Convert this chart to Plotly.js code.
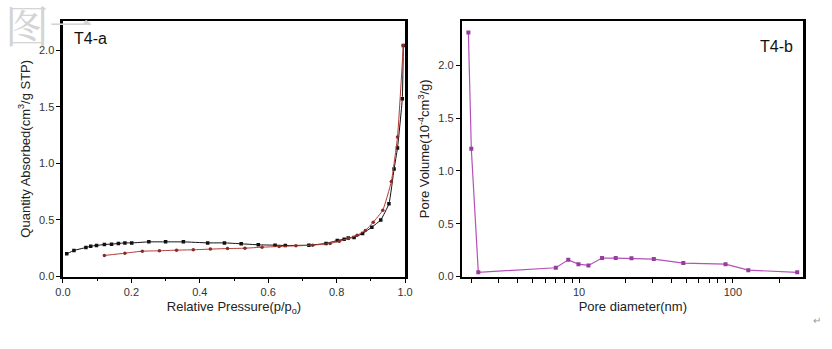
<!DOCTYPE html>
<html>
<head>
<meta charset="utf-8">
<script src="https://cdn.plot.ly/plotly-3.0.1.min.js"></script>
<style>
    body { margin: 0; background: #ffffff; }
    #chart { width: 832px; height: 349px; }
</style>
</head>
<body>
<div id="chart"></div>
<script>
// T4-a : isotherm, two branches
const adsP = [0.011, 0.032, 0.067, 0.081, 0.098, 0.121, 0.142, 0.162, 0.181, 0.201, 0.251, 0.300, 0.352, 0.423, 0.472, 0.521, 0.571, 0.620, 0.650, 0.719, 0.769, 0.802, 0.822, 0.834, 0.851, 0.876, 0.903, 0.929, 0.953, 0.968, 0.978, 0.992, 0.995];
const adsQ = [0.20, 0.23, 0.256, 0.268, 0.274, 0.283, 0.286, 0.292, 0.297, 0.297, 0.306, 0.306, 0.306, 0.297, 0.297, 0.289, 0.280, 0.277, 0.274, 0.277, 0.292, 0.318, 0.330, 0.340, 0.345, 0.380, 0.436, 0.500, 0.643, 0.950, 1.135, 1.57, 2.04];

const desP = [0.121, 0.181, 0.232, 0.282, 0.332, 0.381, 0.431, 0.481, 0.532, 0.582, 0.632, 0.681, 0.730, 0.781, 0.808, 0.834, 0.860, 0.884, 0.907, 0.935, 0.960, 0.978, 0.995];
const desQ = [0.186, 0.206, 0.224, 0.227, 0.233, 0.236, 0.242, 0.247, 0.250, 0.259, 0.265, 0.271, 0.277, 0.292, 0.312, 0.336, 0.365, 0.406, 0.480, 0.586, 0.840, 1.233, 2.04];

// T4-b : pore size distribution
const poreD = [1.905, 1.99, 2.21, 7.05, 8.5, 9.9, 11.5, 14.1, 17.3, 21.9, 30.6, 47.6, 89.6, 126, 262];
const poreV = [2.31, 1.21, 0.04, 0.083, 0.158, 0.117, 0.105, 0.175, 0.175, 0.172, 0.165, 0.127, 0.117, 0.06, 0.04];

const logTicks = [2, 3, 4, 5, 6, 7, 8, 9, 10, 20, 30, 40, 50, 60, 70, 80, 90, 100, 200];
const logText = logTicks.map(v => (v === 10 || v === 100) ? String(v) : '');

const FONT = 'Arial, "Liberation Sans", sans-serif';

function frameAxis(extra) {
    const base = {
        showline: true,
        linecolor: '#000',
        linewidth: 2.5,
        mirror: true,
        showgrid: false,
        zeroline: false,
        ticks: 'outside',
        ticklen: 4,
        tickwidth: 1,
        tickcolor: '#000',
        tickfont: { family: FONT, size: 11, color: '#333' }
    };
    return Object.assign(base, extra);
}

const data = [
    {
        x: adsP, y: adsQ, xaxis: 'x', yaxis: 'y',
        type: 'scatter', mode: 'lines+markers',
        line: { color: '#111', width: 1, shape: 'spline', smoothing: 0.4 },
        marker: { symbol: 'square', size: 3.5, color: '#111' }
    },
    {
        x: desP, y: desQ, xaxis: 'x', yaxis: 'y',
        type: 'scatter', mode: 'lines+markers',
        line: { color: '#b03a34', width: 1, shape: 'spline', smoothing: 0.4 },
        marker: { symbol: 'circle', size: 3.5, color: '#8a2a2a' }
    },
    {
        x: poreD, y: poreV, xaxis: 'x2', yaxis: 'y2',
        type: 'scatter', mode: 'lines+markers',
        line: { color: '#b550b8', width: 1.2 },
        marker: { symbol: 'square', size: 4, color: '#963c9a' }
    }
];

const layout = {
    width: 832,
    height: 349,
    margin: { l: 0, r: 0, t: 0, b: 0 },
    paper_bgcolor: '#ffffff',
    plot_bgcolor: '#ffffff',
    showlegend: false,
    font: { family: FONT, color: '#222' },
    xaxis: frameAxis({
        domain: [0.0757, 0.4868],
        range: [0, 1],
        tickvals: [0, 0.2, 0.4, 0.6, 0.8, 1.0],
        tickformat: '.1f',
        minor: { tickvals: [0.1, 0.3, 0.5, 0.7, 0.9], ticks: 'outside', ticklen: 2, tickcolor: '#000' },
        title: { text: 'Relative Pressure(p/p<sub>o</sub>)', font: { family: FONT, size: 13, color: '#222' }, standoff: 5 },
        anchor: 'y'
    }),
    yaxis: frameAxis({
        domain: [0.2077, 0.9398],
        range: [0, 2.257],
        tickvals: [0, 0.5, 1.0, 1.5, 2.0],
        tickformat: '.1f',
        title: { text: 'Quantity Absorbed(cm<sup>3</sup>/g STP)', font: { family: FONT, size: 13, color: '#222' }, standoff: 6 },
        anchor: 'x'
    }),
    xaxis2: frameAxis({
        domain: [0.5557, 0.9655],
        type: 'log',
        range: [Math.log10(1.74), Math.log10(287)],
        tickvals: logTicks,
        ticktext: logText,
        title: { text: 'Pore diameter(nm)', font: { family: FONT, size: 13, color: '#222' }, standoff: 5 },
        anchor: 'y2'
    }),
    yaxis2: frameAxis({
        domain: [0.2077, 0.9398],
        range: [0, 2.42],
        tickvals: [0, 0.5, 1.0, 1.5, 2.0],
        tickformat: '.1f',
        title: { text: 'Pore Volume(10<sup>-4</sup>cm<sup>3</sup>/g)', font: { family: FONT, size: 13, color: '#222' }, standoff: 6 },
        anchor: 'x2'
    }),
    annotations: [
        {
            text: 'T4-a', xref: 'x domain', yref: 'y domain', x: 0.025, y: 0.93,
            xanchor: 'left', yanchor: 'middle', showarrow: false,
            font: { family: FONT, size: 16, color: '#111' }
        },
        {
            text: 'T4-b', xref: 'x2 domain', yref: 'y2 domain', x: 0.975, y: 0.9,
            xanchor: 'right', yanchor: 'middle', showarrow: false,
            font: { family: FONT, size: 16, color: '#111' }
        },
        {
            text: '图一', xref: 'paper', yref: 'paper', x: 0.004, y: 1.03,
            xanchor: 'left', yanchor: 'top', showarrow: false,
            font: { family: '"Noto Serif CJK SC", "Noto Sans CJK SC", serif', size: 44, color: '#d4d4d4' }
        },
        {
            text: '↵', xref: 'paper', yref: 'paper', x: 0.982, y: 0.083,
            xanchor: 'center', yanchor: 'middle', showarrow: false,
            font: { family: FONT, size: 10, color: '#999' }
        }
    ]
};

Plotly.newPlot('chart', data, layout, { staticPlot: true });
</script>
</body>
</html>
